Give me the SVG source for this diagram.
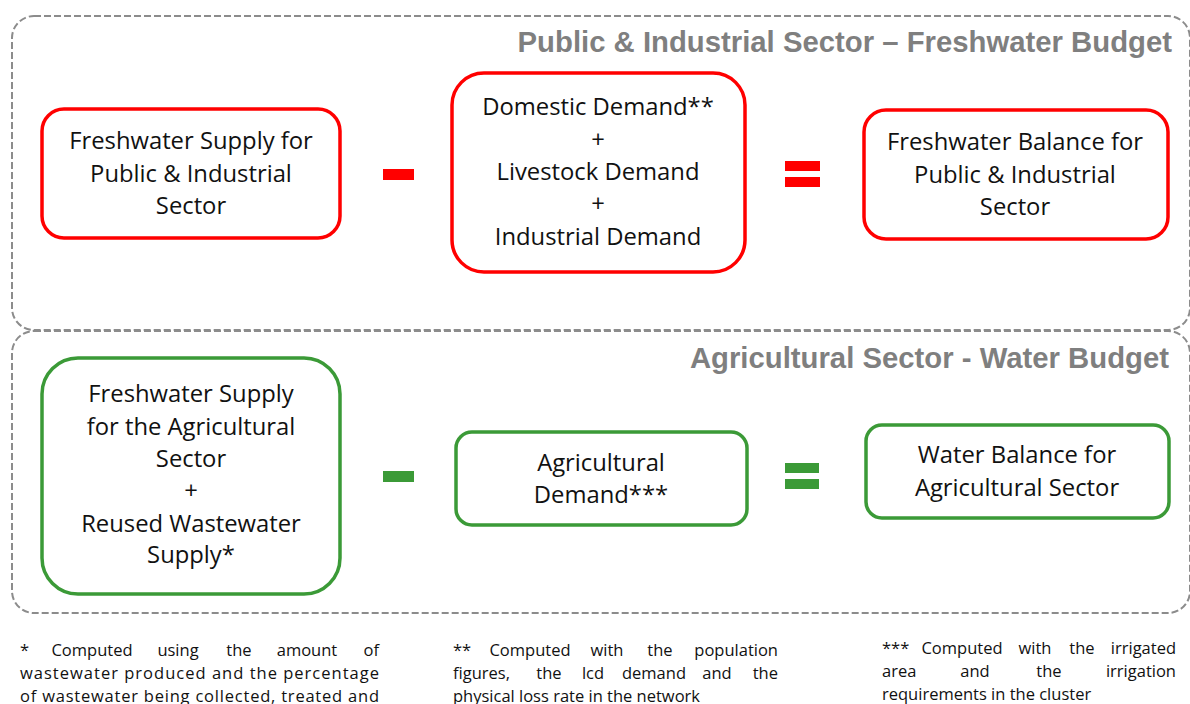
<svg xmlns="http://www.w3.org/2000/svg" width="1190" height="704" viewBox="0 0 1190 704">
  <style>
    .panel { fill: none; stroke: #8c8c8c; stroke-width: 2; stroke-dasharray: 7 3; }
    .title { font-family: "Liberation Sans", Arial, sans-serif; font-weight: bold; font-size: 29.3px; fill: #7f7f7f; text-anchor: end; }
    .red { fill: #ffffff; stroke: #ff0000; stroke-width: 3.5; }
    .green { fill: #ffffff; stroke: #3b9a37; stroke-width: 3.5; }
    .opRed { fill: #ff0000; }
    .opGreen { fill: #3b9a37; }
    .lbl { font-family: "Open Sans", "Noto Sans", sans-serif; font-size: 23.8px; fill: #111111; text-anchor: middle; }
    .note { font-family: "Open Sans", "Noto Sans", sans-serif; font-size: 16.5px; fill: #111111; }
    .m { text-anchor: middle; }
    .e { text-anchor: end; }
  </style>

  <!-- dashed sector panels -->
  <g id="panel-public">
    <rect class="panel" x="12" y="16" width="1178" height="314" rx="22"/>
    <text class="title" x="1172" y="52">Public &amp; Industrial Sector – Freshwater Budget</text>
  </g>
  <g id="panel-agri">
    <rect class="panel" x="12" y="331" width="1178" height="282" rx="22"/>
    <text class="title" x="1169" y="368">Agricultural Sector - Water Budget</text>
  </g>

  <!-- public & industrial equation -->
  <g id="supply-public">
    <rect class="red" x="42" y="109" width="298" height="129" rx="22"/>
    <text class="lbl" x="191" y="149">Freshwater Supply for</text>
    <text class="lbl" x="191" y="182">Public &amp; Industrial</text>
    <text class="lbl" x="191" y="214">Sector</text>
  </g>
  <g id="demand-public">
    <rect class="red" x="452" y="73" width="293" height="199" rx="32"/>
    <text class="lbl" x="598" y="115">Domestic Demand**</text>
    <text class="lbl" x="598" y="148">+</text>
    <text class="lbl" x="598" y="180">Livestock Demand</text>
    <text class="lbl" x="598" y="212">+</text>
    <text class="lbl" x="598" y="245">Industrial Demand</text>
  </g>
  <g id="balance-public">
    <rect class="red" x="864" y="110" width="304" height="129" rx="22"/>
    <text class="lbl" x="1015" y="150">Freshwater Balance for</text>
    <text class="lbl" x="1015" y="183">Public &amp; Industrial</text>
    <text class="lbl" x="1015" y="215">Sector</text>
  </g>

  <!-- agricultural equation -->
  <g id="supply-agri">
    <rect class="green" x="42" y="358" width="298" height="236" rx="36"/>
    <text class="lbl" x="191" y="402">Freshwater Supply</text>
    <text class="lbl" x="191" y="435">for the Agricultural</text>
    <text class="lbl" x="191" y="467">Sector</text>
    <text class="lbl" x="191" y="499">+</text>
    <text class="lbl" x="191" y="532">Reused Wastewater</text>
    <text class="lbl" x="191" y="563">Supply*</text>
  </g>
  <g id="demand-agri">
    <rect class="green" x="456" y="432" width="291" height="93" rx="16"/>
    <text class="lbl" x="601" y="471">Agricultural</text>
    <text class="lbl" x="601" y="503">Demand***</text>
  </g>
  <g id="balance-agri">
    <rect class="green" x="866" y="425" width="303" height="93" rx="16"/>
    <text class="lbl" x="1017" y="463">Water Balance for</text>
    <text class="lbl" x="1017" y="496">Agricultural Sector</text>
  </g>

  <!-- minus / equals operators -->
  <g id="operators">
    <rect class="opRed" x="383" y="169" width="31" height="11"/>
    <rect class="opRed" x="785" y="161" width="35" height="10"/>
    <rect class="opRed" x="785" y="177" width="35" height="10"/>
    <rect class="opGreen" x="383" y="471" width="31" height="11"/>
    <rect class="opGreen" x="785" y="463" width="34" height="10"/>
    <rect class="opGreen" x="785" y="479" width="34" height="10"/>
  </g>

  <!-- footnotes (justified, words placed with even gaps) -->
  <g id="note-1" class="note">
    <text x="20" y="656">*</text>
    <text class="m" x="92" y="656">Computed</text>
    <text class="m" x="178" y="656">using</text>
    <text class="m" x="239" y="656">the</text>
    <text class="m" x="307" y="656">amount</text>
    <text class="e" x="379" y="656">of</text>
    <text x="20" y="679" textLength="359" lengthAdjust="spacing">wastewater produced and the percentage</text>
    <text x="20" y="702" textLength="359" lengthAdjust="spacing">of wastewater being collected, treated and</text>
  </g>
  <g id="note-2" class="note">
    <text x="453" y="656">**</text>
    <text class="m" x="530" y="656">Computed</text>
    <text class="m" x="607" y="656">with</text>
    <text class="m" x="660" y="656">the</text>
    <text class="e" x="778" y="656">population</text>
    <text x="453" y="679">figures,</text>
    <text class="m" x="549" y="679">the</text>
    <text class="m" x="593" y="679">lcd</text>
    <text class="m" x="654" y="679">demand</text>
    <text class="m" x="717" y="679">and</text>
    <text class="e" x="778" y="679">the</text>
    <text x="453" y="702">physical loss rate in the network</text>
  </g>
  <g id="note-3" class="note">
    <text x="882" y="654">***</text>
    <text class="m" x="962" y="654">Computed</text>
    <text class="m" x="1035" y="654">with</text>
    <text class="m" x="1082" y="654">the</text>
    <text class="e" x="1176" y="654">irrigated</text>
    <text x="882" y="677">area</text>
    <text class="m" x="975" y="677">and</text>
    <text class="m" x="1049" y="677">the</text>
    <text class="e" x="1176" y="677">irrigation</text>
    <text x="882" y="700">requirements in the cluster</text>
  </g>
</svg>
